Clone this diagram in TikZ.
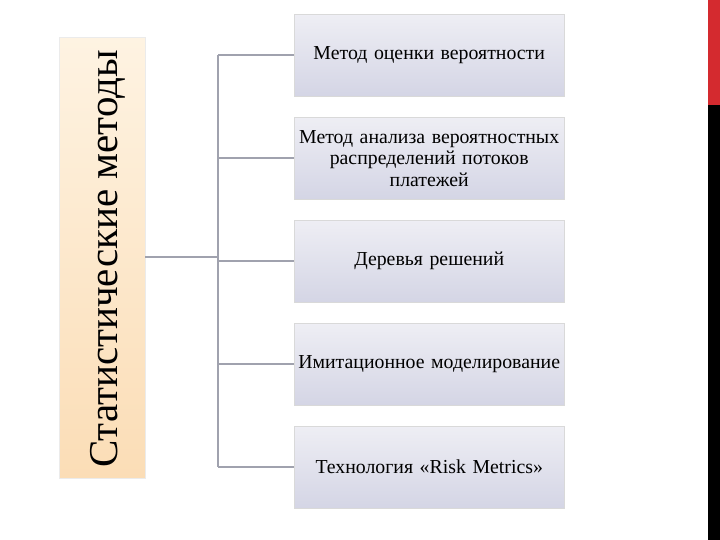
\documentclass[tikz,border=0pt]{standalone}
\usepackage{fontspec}
\setmainfont{Liberation Serif}
\begin{document}
\begin{tikzpicture}[x=1pt,y=-1pt,
  leaf/.style={draw=black!15, top color=lav1, bottom color=lav2, minimum width=270pt, minimum height=82pt, anchor=north west, inner sep=1pt, text width=268pt, align=center, font=\fontsize{19.8}{21.5}\selectfont},
  conn/.style={draw=connc, line width=1.6pt}]
\definecolor{lav1}{HTML}{EEEEF4}
\definecolor{lav2}{HTML}{D4D5E5}
\definecolor{or1}{HTML}{FEF3E2}
\definecolor{or2}{HTML}{FBDDB6}
\definecolor{connc}{HTML}{A0A2AE}
\definecolor{barred}{HTML}{D42A2F}
\useasboundingbox (0,0) rectangle (720,540);
\fill[barred] (708,0) rectangle (720,105);
\fill[black] (708,105) rectangle (720,540);
\node[draw=black!8, top color=or1, bottom color=or2, minimum width=86pt, minimum height=441pt, anchor=north west, inner sep=0pt] (root) at (59,37) {};
\node[rotate=90, font=\fontsize{41}{48}\selectfont] (rt) at (108,259) {Статистические методы};
\node[leaf] (a) at (294,14) {Метод оценки вероятности};
\node[leaf] (b) at (294,117) {Метод анализа вероятностных\\ распределений потоков\\ платежей};
\node[leaf] (c) at (294,220) {Деревья решений};
\node[leaf] (d) at (294,323) {Имитационное моделирование};
\node[leaf] (e) at (294,426) {Технология «Risk Metrics»};
\coordinate (j) at (218,257);
\draw[conn] (root.east |- j) -- (j);
\draw[conn] (j |- a.west) -- (j |- e.west);
\foreach \n in {a,b,c,d,e} \draw[conn] (j |- \n.west) -- (\n.west);
\end{tikzpicture}
\end{document}
